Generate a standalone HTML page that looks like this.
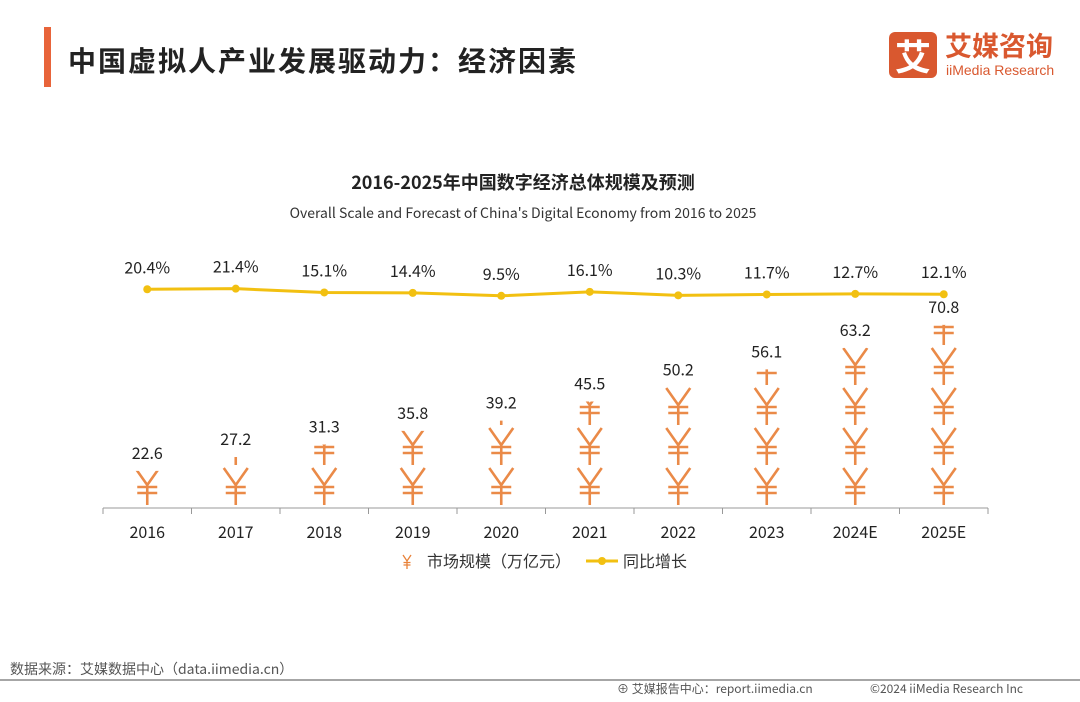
<!DOCTYPE html>
<html><head><meta charset="utf-8"><style>
body{margin:0;width:1080px;height:702px;background:#fff;font-family:"Noto Sans CJK SC",sans-serif;position:relative;overflow:hidden}
.abs{position:absolute}
</style></head><body>
<div class="abs" style="left:44px;top:27px;width:7px;height:60px;background:#e8643a"></div>
<div class="abs" style="left:68px;top:40px;font-size:28px;font-weight:bold;color:#222;letter-spacing:2px;font-family:'Noto Sans CJK SC',sans-serif">中国虚拟人产业发展驱动力：经济因素</div>
<div class="abs" style="left:889px;top:32px;width:48px;height:46px;background:#d9582f;border-radius:6px;color:#fff;font-size:36px;font-weight:bold;text-align:center;line-height:46px;font-family:'Noto Sans CJK SC',sans-serif">艾</div>
<div class="abs" style="left:945px;top:28px;font-size:27px;font-weight:bold;color:#d9582f;font-family:'Noto Sans CJK SC',sans-serif;line-height:34px">艾媒咨询</div>
<div class="abs" style="left:946px;top:62px;font-size:14px;color:#d9582f;font-family:'Liberation Sans',sans-serif">iiMedia Research</div>
<svg class="abs" style="left:0;top:0" width="1080" height="702" font-family="Noto Sans CJK SC,sans-serif">
<text x="523" y="189" text-anchor="middle" font-size="18" font-weight="bold" fill="#222">2016-2025年中国数字经济总体规模及预测</text>
<text x="523" y="218" text-anchor="middle" font-size="14" fill="#333">Overall Scale and Forecast of China's Digital Economy from 2016 to 2025</text>
<g id="g"></g>
<line x1="103" y1="508" x2="988" y2="508" stroke="#999"/>
<g>
<path d="M403 555 L407 561 L411 555 M407 561 V569 M403.5 562.5 H410.5 M403.5 565 H410.5" stroke="#e8823a" stroke-width="1.3" fill="none"/>
<text x="427" y="567" font-size="16" fill="#333">市场规模（万亿元）</text>
<line x1="586" y1="561" x2="618" y2="561" stroke="#f2c011" stroke-width="3"/>
<circle cx="602" cy="561" r="4" fill="#f2c011"/>
<text x="623" y="567" font-size="16" fill="#333">同比增长</text>
</g>
<line x1="0" y1="680" x2="1080" y2="680" stroke="#888" stroke-width="1.5"/>
<text x="10" y="674" font-size="14" fill="#555">数据来源：艾媒数据中心（data.iimedia.cn）</text>
<text x="617" y="693" font-size="12" fill="#555">⊕ 艾媒报告中心：report.iimedia.cn</text>
<text x="870" y="693" font-size="12" fill="#555">©2024 iiMedia Research Inc</text>
</svg>
<script>
const years=["2016","2017","2018","2019","2020","2021","2022","2023","2024E","2025E"];
const scale=[22.6,27.2,31.3,35.8,39.2,45.5,50.2,56.1,63.2,70.8];
const growth=[20.4,21.4,15.1,14.4,9.5,16.1,10.3,11.7,12.7,12.1];
const NS="http://www.w3.org/2000/svg";
const g=document.getElementById('g');
const x0=103,step=88.5,base=507;
const xs=i=>x0+step*(i+0.5);
const yBar=v=>Math.min(base,539.4-v*3.03);
const yLine=v=>301.5-v*0.6;
function mk(t,a){const e=document.createElementNS(NS,t);for(const k in a)e.setAttribute(k,a[k]);g.appendChild(e);return e;}
const defs=mk('defs',{});
for(let i=0;i<=10;i++){mk('line',{x1:x0+step*i,y1:508,x2:x0+step*i,y2:514,stroke:'#999'});}
years.forEach((y,i)=>{
 const cx=xs(i);
 const cp=document.createElementNS(NS,'clipPath');cp.setAttribute('id','c'+i);
 const r=document.createElementNS(NS,'rect');r.setAttribute('x',cx-25);r.setAttribute('y',yBar(scale[i]));r.setAttribute('width',50);r.setAttribute('height',base-yBar(scale[i]));
 cp.appendChild(r);defs.appendChild(cp);
 const bar=mk('g',{'clip-path':'url(#c'+i+')',stroke:'#ea8a48','stroke-width':2.6,fill:'none'});
 
 
 for(let k=0;k<5;k++){
  const t0=468-k*40;
  const p=document.createElementNS(NS,'path');
  p.setAttribute('d',`M${cx-12} ${t0} L${cx} ${t0+17} L${cx+12} ${t0} M${cx} ${t0+17} V${t0+37} M${cx-10} ${t0+19} H${cx+10} M${cx-10} ${t0+25} H${cx+10}`);
  bar.appendChild(p);
 }
 const lb=mk('text',{x:cx,y:yBar(scale[i])-12,'text-anchor':'middle','font-size':16,fill:'#222'});
 
 
 lb.textContent=scale[i];
 const xl=mk('text',{x:cx,y:538,'text-anchor':'middle','font-size':16,fill:'#222'});
 
 
 xl.textContent=y;
});
const pts=growth.map((v,i)=>xs(i)+','+yLine(v)).join(' ');
const pl=mk('polyline',{points:pts,fill:'none',stroke:'#f2c011','stroke-width':3});


growth.forEach((v,i)=>{
 const c=mk('circle',{cx:xs(i),cy:yLine(v),r:4,fill:'#f2c011'});
 
 
 const t=mk('text',{x:xs(i),y:yLine(v)-16,'text-anchor':'middle','font-size':16,fill:'#222'});
 
 
 t.textContent=v.toFixed(1)+'%';
});
</script>
</body></html>
